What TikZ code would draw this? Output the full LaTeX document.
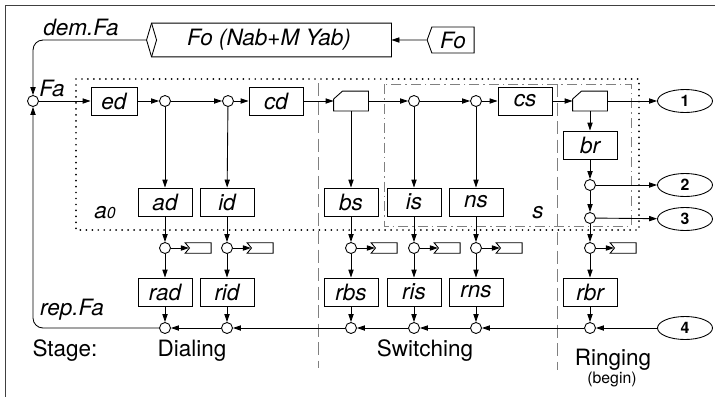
\documentclass[tikz,border=0pt]{standalone}
\usepackage{fontspec}
\setmainfont{TeX Gyre Heros}
\usetikzlibrary{arrows.meta,shapes.geometric,shapes.symbols,positioning}

\begin{document}
\begin{tikzpicture}[x=0.2mm, y=-0.2mm, line width=0.5pt,
  blk/.style={draw, minimum width=10.8mm, minimum height=5.6mm, inner sep=1pt,
              font=\fontsize{12.8}{14}\selectfont\itshape},
  jn/.style={draw, circle, minimum size=2.2mm, inner sep=0pt},
  cut/.style={minimum width=6.8mm, minimum height=3.8mm, inner sep=0pt},
  tag/.style={draw, signal, signal to=nowhere, signal from=west, signal pointer angle=100,
              minimum width=5.2mm, minimum height=2.1mm, inner sep=0pt},
  outp/.style={draw, ellipse, minimum width=11mm, minimum height=4.6mm, inner sep=0pt,
               font=\fontsize{9}{10}\selectfont\bfseries},
  lbl/.style={font=\fontsize{12.8}{14}\selectfont\itshape},
  stg/.style={font=\fontsize{12.8}{14}\selectfont},
  arr/.style={-{Triangle[length=1.6mm, width=1.05mm]}},
  grp/.style={line width=1.1pt, dash pattern=on 0pt off 3.4pt, line cap=round},
  subgrp/.style={gray, dash pattern=on 2mm off 0.8mm on 0.3mm off 0.8mm},
  sep/.style={gray, dash pattern=on 2.6mm off 1.1mm}
]
\useasboundingbox (0,0) rectangle (715,397);
\draw[darkgray] (715,5) -- (5,5) -- (5,397);

% groups and stage borders
\draw[grp] (76,79) rectangle (639,230);
\draw[subgrp] (384,84) rectangle (631,226);
\draw[sep] (318,83) -- (318,368);
\draw[sep] (557,84) -- (557,370);

% source
\node[lbl, minimum width=48.8mm, minimum height=6mm] (fo) at (269,40) {Fo (Nab+M Yab)};
\draw (fo.north east) -- ([xshift=1mm]fo.north west) -- (fo.west) -- ([xshift=1mm]fo.south west)
      -- (fo.south east) -- cycle;
\draw ([xshift=1mm]fo.north west) -- ([xshift=2mm]fo.west) -- ([xshift=1mm]fo.south west);
\node[draw, signal, signal to=west, signal pointer angle=140, minimum width=9.4mm,
      minimum height=5.2mm, inner sep=1pt, lbl] (fosrc) at (453,40) {Fo};

% main row
\node[jn] (fa) at (33,101) {};
\node[blk, minimum width=9.2mm] (ed) at (114,101) {ed};
\node[jn] (j1) at (165,101) {};
\node[jn] (j2) at (228,101) {};
\node[blk] (cd) at (276,101) {cd};
\node[cut] (sw1) at (351,101) {};
\node[jn] (j3) at (414,101) {};
\node[jn] (j4) at (476,101) {};
\node[blk] (cs) at (525,101) {cs};
\node[cut] (sw2) at (590,101) {};
\node[outp] (o1) at (685,101) {1};
\draw (sw1.south west) -- ([yshift=-1.6mm]sw1.north west) -- ([xshift=1.8mm]sw1.north west)
      -- (sw1.north east) -- (sw1.south east) -- cycle;
\draw (sw2.south west) -- ([yshift=-1.6mm]sw2.north west) -- ([xshift=1.8mm]sw2.north west)
      -- (sw2.north east) -- (sw2.south east) -- cycle;

% second row
\node[blk] (ad) at (165,202) {ad};
\node[blk] (id) at (227,202) {id};
\node[blk] (bs) at (351,202) {bs};
\node[blk] (is) at (414,202) {is};
\node[blk] (ns) at (476,202) {ns};
\node[blk] (br) at (590,145) {br};
\node[jn] (j5) at (590,185) {};
\node[jn] (j6) at (590,218) {};
\node[outp] (o2) at (685,185) {2};
\node[outp] (o3) at (685,219) {3};

% release points
\node[jn] (m1) at (165,248) {};
\node[jn] (m2) at (227,248) {};
\node[jn] (m3) at (351,248) {};
\node[jn] (m4) at (414,248) {};
\node[jn] (m5) at (476,248) {};
\node[jn] (m6) at (590,248) {};
\node[tag, right=3.6mm of m1] (t1) {};
\node[tag, right=3.6mm of m2] (t2) {};
\node[tag, right=3.6mm of m3] (t3) {};
\node[tag, right=3.6mm of m4] (t4) {};
\node[tag, right=3.6mm of m5] (t5) {};
\node[tag, right=3.6mm of m6] (t6) {};

% bottom row
\node[blk] (rad) at (165,292) {rad};
\node[blk] (rid) at (227,292) {rid};
\node[blk] (rbs) at (351,292) {rbs};
\node[blk] (ris) at (414,292) {ris};
\node[blk] (rns) at (476,292) {rns};
\node[blk] (rbr) at (590,292) {rbr};
\node[jn] (b1) at (165,328) {};
\node[jn] (b2) at (227,328) {};
\node[jn] (b3) at (351,328) {};
\node[jn] (b4) at (414,328) {};
\node[jn] (b5) at (476,328) {};
\node[jn] (b6) at (590,328) {};
\node[outp] (o4) at (685,328) {4};

% connectors
\draw[arr] (fosrc) -- (fo);
\draw[arr, rounded corners=2mm] (fo.west) -| (fa);
\draw[arr] (fa) -- (ed);
\draw[arr] (ed) -- (j1);
\draw[arr] (j1) -- (j2);
\draw[arr] (j2) -- (cd);
\draw[arr] (cd) -- (sw1);
\draw[arr] (sw1) -- (j3);
\draw[arr] (j3) -- (j4);
\draw[arr] (j4) -- (cs);
\draw[arr] (cs) -- (sw2);
\draw[arr] (sw2) -- (o1);
\draw[arr] (j1) -- (ad);
\draw[arr] (j2) -- (id);
\draw[arr] (sw1) -- (bs);
\draw[arr] (j3) -- (is);
\draw[arr] (j4) -- (ns);
\draw[arr] (sw2) -- (br);
\draw[arr] (br) -- (j5);
\draw[arr] (j5) -- (j6);
\draw[arr] (j5) -- (o2);
\draw[arr] (j6) -- (o3);
\draw[arr] (ad) -- (m1);
\draw[arr] (id) -- (m2);
\draw[arr] (bs) -- (m3);
\draw[arr] (is) -- (m4);
\draw[arr] (ns) -- (m5);
\draw[arr] (j6) -- (m6);
\draw[arr] (m1) -- (t1);
\draw[arr] (m2) -- (t2);
\draw[arr] (m3) -- (t3);
\draw[arr] (m4) -- (t4);
\draw[arr] (m5) -- (t5);
\draw[arr] (m6) -- (t6);
\draw[arr] (m1) -- (rad);
\draw[arr] (m2) -- (rid);
\draw[arr] (m3) -- (rbs);
\draw[arr] (m4) -- (ris);
\draw[arr] (m5) -- (rns);
\draw[arr] (m6) -- (rbr);
\draw[arr] (rad) -- (b1);
\draw[arr] (rid) -- (b2);
\draw[arr] (rbs) -- (b3);
\draw[arr] (ris) -- (b4);
\draw[arr] (rns) -- (b5);
\draw[arr] (rbr) -- (b6);
\draw[arr] (o4) -- (b6);
\draw[arr] (b6) -- (b5);
\draw[arr] (b5) -- (b4);
\draw[arr] (b4) -- (b3);
\draw[arr] (b3) -- (b2);
\draw[arr] (b2) -- (b1);
\draw[arr, rounded corners=2mm] (b1) -| (fa);

% labels
\node[lbl] (demlbl) at (81,27) {dem.Fa};
\node[lbl] (replbl) at (72,310) {rep.Fa};
\node[lbl] (falbl) at (52,88) {Fa};
\node[lbl] (a0lbl) at (105,213) {a\fontsize{9}{10}\selectfont 0};
\node[lbl] (slbl) at (538,213) {s};
\node[stg] (stage) at (65,351) {Stage:};
\node[stg] (dial) at (192,351) {Dialing};
\node[stg] (swit) at (425,351) {Switching};
\node[stg] (ring) at (613,360) {Ringing};
\node[font=\fontsize{9}{10}\selectfont] (begin) at (612,379) {(begin)};
\end{tikzpicture}
\end{document}
